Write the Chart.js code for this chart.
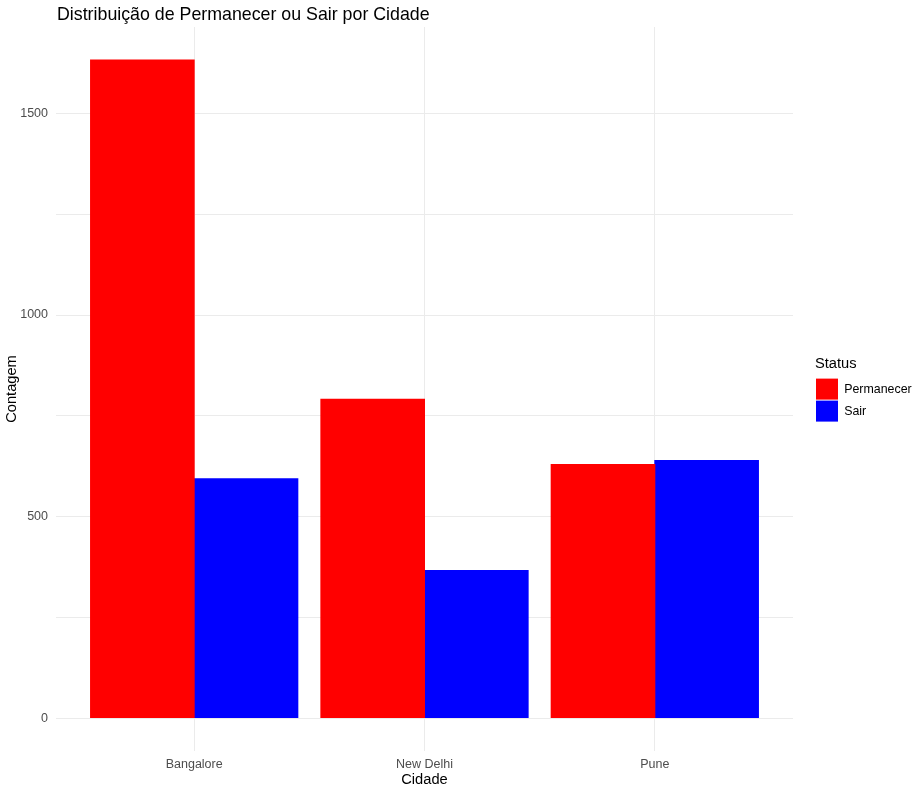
<!DOCTYPE html>
<html>
<head>
<meta charset="utf-8">
<script src="https://cdn.jsdelivr.net/npm/chart.js@4.4.1/dist/chart.umd.min.js"></script>
<style>
  html, body { margin: 0; padding: 0; background: #ffffff; }
  #wrap { width: 919px; height: 788px; }
</style>
</head>
<body>
<div id="wrap"><canvas id="grafica" width="919" height="788"></canvas></div>
<script>
const cidades = ['Bangalore', 'New Delhi', 'Pune'];
const permanecer = [1633, 791, 629];
const sair = [594, 366, 639];
const ticksY = [0, 250, 500, 750, 1000, 1250, 1500];
const titulo = 'Distribuição de Permanecer ou Sair por Cidade';

const fonte = '"Liberation Sans", Arial, sans-serif';
const maximo = Math.max(...permanecer, ...sair);

// titulo alinhado com o painel, como no ggplot
const tituloPlugin = {
    id: 'tituloPainel',
    afterDraw(chart) {
        const ctx = chart.ctx;
        ctx.save();
        ctx.font = '17.8px ' + fonte;
        ctx.fillStyle = '#000000';
        ctx.textBaseline = 'alphabetic';
        ctx.textAlign = 'left';
        ctx.fillText(titulo, chart.chartArea.left + 1, 19.5);
        ctx.restore();
    }
};

const ctx = document.getElementById('grafica').getContext('2d');

new Chart(ctx, {
    type: 'bar',
    data: {
        datasets: [{
            label: 'Permanecer',
            data: cidades.map((c, i) => ({ x: i, y: permanecer[i] })),
            backgroundColor: '#ff0000',
            borderWidth: 0,
            inflateAmount: 0.5
        }, {
            label: 'Sair',
            data: cidades.map((c, i) => ({ x: i, y: sair[i] })),
            backgroundColor: '#0000ff',
            borderWidth: 0,
            inflateAmount: 0.5
        }]
    },
    options: {
        responsive: false,
        animation: false,
        layout: { padding: { top: 27, right: 0, bottom: 0, left: 0 } },
        datasets: {
            bar: { categoryPercentage: 0.9, barPercentage: 1.0 }
        },
        plugins: {
            title: { display: false },
            tooltip: { enabled: false },
            legend: {
                position: 'right',
                align: 'start',
                maxWidth: 104,
                title: {
                    display: true,
                    text: 'Status',
                    position: 'start',
                    color: '#000000',
                    font: { family: fonte, size: 14.67 },
                    padding: { top: 330, bottom: 3 }
                },
                labels: {
                    boxWidth: 22,
                    boxHeight: 21,
                    padding: 1,
                    color: '#000000',
                    font: { family: fonte, size: 12.4 }
                }
            }
        },
        scales: {
            x: {
                type: 'linear',
                offset: false,
                min: -0.6,
                max: cidades.length - 1 + 0.6,
                afterBuildTicks: s => { s.ticks = cidades.map((c, i) => ({ value: i })); },
                afterFit: s => { s.height = 37; },
                grid: { offset: false, color: '#ebebeb', lineWidth: 1, drawTicks: false },
                border: { display: false },
                ticks: {
                    padding: 6,
                    color: '#4d4d4d',
                    font: { family: fonte, size: 12.5 },
                    callback: v => cidades[v]
                },
                title: {
                    display: true,
                    text: 'Cidade',
                    color: '#000000',
                    font: { family: fonte, size: 14.67, lineHeight: 1.05 },
                    padding: { top: 0, bottom: 0 }
                }
            },
            y: {
                min: -maximo * 0.05,
                max: maximo * 1.05,
                afterBuildTicks: s => { s.ticks = ticksY.map(v => ({ value: v })); },
                afterFit: s => { s.width = 56; },
                grid: { color: '#ebebeb', lineWidth: 1, drawTicks: false },
                border: { display: false },
                ticks: {
                    padding: 8,
                    color: '#4d4d4d',
                    font: { family: fonte, size: 12.5 },
                    callback: v => (v % 500 === 0 ? v : '')
                },
                title: {
                    display: true,
                    text: 'Contagem',
                    color: '#000000',
                    font: { family: fonte, size: 14.67 },
                    padding: { top: 3, bottom: 0 }
                }
            },
            // eixo vazio so para abrir espaco entre o painel e a legenda
            espaco: {
                type: 'linear',
                position: 'right',
                display: true,
                grid: { display: false, drawTicks: false },
                border: { display: false },
                ticks: { display: false },
                afterFit: s => { s.width = 22; }
            }
        }
    },
    plugins: [tituloPlugin]
});
</script>
</body>
</html>
